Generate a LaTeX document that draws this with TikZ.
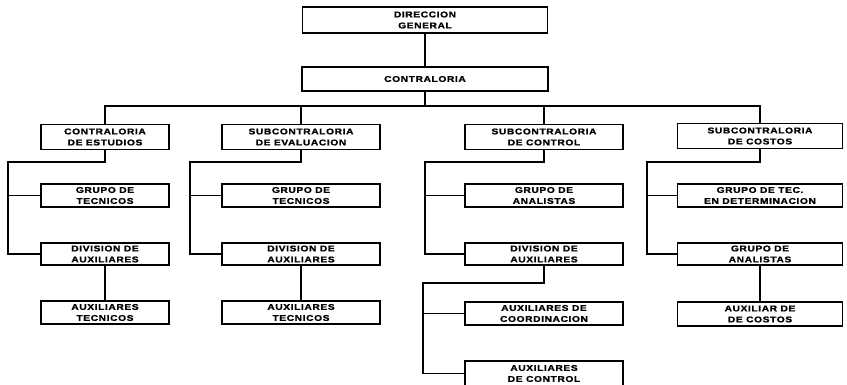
\documentclass[tikz,border=0pt]{standalone}
\usepackage{fontspec}
\newfontfamily\orgfont{Liberation Sans}[FakeStretch=1.22,LetterSpace=7,BoldFeatures={FakeBold=1.3}]
\begin{document}
\begin{tikzpicture}[x=1pt,y=-1pt,
  orgbox/.style={draw, line width=1.9pt, inner sep=0pt, align=center,
    font=\orgfont\bfseries\fontsize{8.4}{11}\selectfont},
  link/.style={line width=1.4pt}]
\clip (0,0) rectangle (847,384);
\fill[white] (0,0) rectangle (847,384);

% top of the chart
\node[orgbox, minimum width=245pt, minimum height=26pt] (dg) at (425,20) {DIRECCION\\GENERAL};
\node[orgbox, minimum width=246pt, minimum height=24pt] (con) at (425,79) {CONTRALORIA};

% first level
\tikzset{c1/.style={orgbox, minimum width=128pt},
         c2/.style={orgbox, minimum width=158pt},
         c3/.style={orgbox, minimum width=158pt},
         c4/.style={orgbox, minimum width=165pt}}
\node[c1, minimum height=25pt] (e1) at (105,137) {CONTRALORIA\\DE ESTUDIOS};
\node[c2, minimum height=25pt] (e2) at (301,137) {SUBCONTRALORIA\\DE EVALUACION};
\node[c3, minimum height=25pt] (e3) at (544,137) {SUBCONTRALORIA\\DE CONTROL};
\node[c4, minimum height=25pt] (e4) at (760,136) {SUBCONTRALORIA\\DE COSTOS};

% second level
\node[c1, minimum height=23pt] (g1) at (105,195.5) {GRUPO DE\\TECNICOS};
\node[c2, minimum height=23pt] (g2) at (301,195.5) {GRUPO DE\\TECNICOS};
\node[c3, minimum height=23pt] (g3) at (544,195.5) {GRUPO DE\\ANALISTAS};
\node[c4, minimum height=23pt] (g4) at (760,195.5) {GRUPO DE TEC.\\EN DETERMINACION};

% third level
\node[c1, minimum height=22pt] (d1) at (105,254) {DIVISION DE\\AUXILIARES};
\node[c2, minimum height=22pt] (d2) at (301,254) {DIVISION DE\\AUXILIARES};
\node[c3, minimum height=22pt] (d3) at (544,254) {DIVISION DE\\AUXILIARES};
\node[c4, minimum height=22pt] (d4) at (760,254) {GRUPO DE\\ANALISTAS};

% fourth and fifth level
\node[c1, minimum height=23pt] (a1) at (105,312.5) {AUXILIARES\\TECNICOS};
\node[c2, minimum height=23pt] (a2) at (301,312.5) {AUXILIARES\\TECNICOS};
\node[c3, minimum height=23pt] (a3) at (544,313.5) {AUXILIARES DE\\COORDINACION};
\node[c4, minimum height=24pt] (a4) at (760,314) {AUXILIAR DE\\DE COSTOS};
\node[c3, minimum height=25pt] (k3) at (544,373.5) {AUXILIARES\\DE CONTROL};

% connectors
\coordinate (bus) at (425,106);
\draw[link] (dg) -- (con);
\draw[link] (con) -- (bus);
\draw[link] (e1.north) |- (bus) -| (e4.north);
\draw[link] (e2.north) -- (e2.north |- bus);
\draw[link] (e3.north) -- (e3.north |- bus);

\coordinate (t1) at (8,162);
\coordinate (t2) at (190,162);
\coordinate (t3) at (425,162);
\coordinate (t4) at (647,162);
\draw[link] (e1.south) |- (t1) |- (d1.west);
\draw[link] (t1 |- g1.west) -- (g1.west);
\draw[link] (e2.south) |- (t2) |- (d2.west);
\draw[link] (t2 |- g2.west) -- (g2.west);
\draw[link] (e3.south) |- (t3) |- (d3.west);
\draw[link] (t3 |- g3.west) -- (g3.west);
\draw[link] (e4.south) |- (t4) |- (d4.west);
\draw[link] (t4 |- g4.west) -- (g4.west);

\draw[link] (d1) -- (a1);
\draw[link] (d2) -- (a2);
\draw[link] (d4) -- (a4);
\coordinate (t5) at (423,283);
\draw[link] (d3.south) |- (t5) |- (k3.west);
\draw[link] (t5 |- a3.west) -- (a3.west);
\end{tikzpicture}
\end{document}
